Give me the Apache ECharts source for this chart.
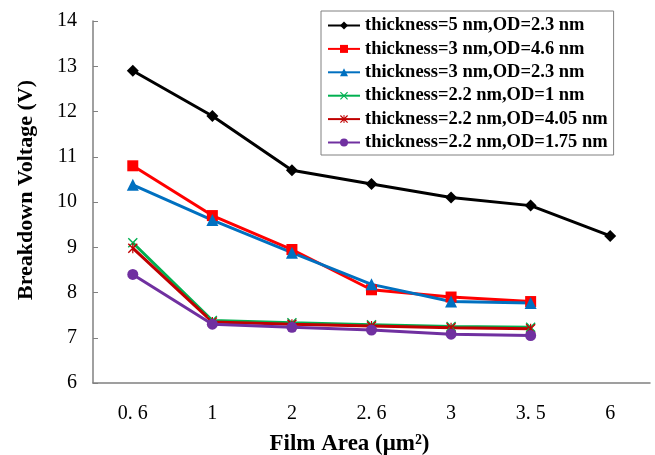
<!DOCTYPE html>
<html><head><meta charset="utf-8">
<script src="https://cdn.jsdelivr.net/npm/echarts@6/dist/echarts.min.js"></script>
<style>html,body{margin:0;padding:0;background:#fff}#c{width:655px;height:455px}</style>
</head><body><div id="c"></div>
<script>
const categories = ['0. 6', '1', '2', '2. 6', '3', '3. 5', '6'];
const names = [
  'thickness=5 nm,OD=2.3 nm',
  'thickness=3 nm,OD=4.6 nm',
  'thickness=3 nm,OD=2.3 nm',
  'thickness=2.2 nm,OD=1 nm',
  'thickness=2.2 nm,OD=4.05 nm',
  'thickness=2.2 nm,OD=1.75 nm'
];
const s5_23 = [12.9, 11.9, 10.7, 10.4, 10.1, 9.92, 9.25];
const s3_46 = [10.8, 9.7, 8.95, 8.06, 7.9, 7.8];
const s3_23 = [10.38, 9.6, 8.88, 8.18, 7.8, 7.77];
const s22_1 = [9.1, 7.38, 7.33, 7.29, 7.25, 7.23];
const s22_405 = [8.98, 7.35, 7.3, 7.26, 7.22, 7.2];
const s22_175 = [8.4, 7.3, 7.23, 7.17, 7.08, 7.05];

const X_PATH = 'path://M0,1L1,0L10,9L9,10Z M9,0L10,1L1,10L0,9Z';
const STAR_PATH = 'path://M0,1L1,0L10,9L9,10Z M9,0L10,1L1,10L0,9Z M4.4,0L5.6,0L5.6,10L4.4,10Z';

const styles = [
  {color:'#000000', symbol:'diamond', size:12},
  {color:'#ff0000', symbol:'rect', size:11},
  {color:'#0070c0', symbol:'triangle', size:12},
  {color:'#00b050', symbol:X_PATH, size:10},
  {color:'#c00000', symbol:STAR_PATH, size:10},
  {color:'#7030a0', symbol:'circle', size:11}
];
const data = [s5_23, s3_46, s3_23, s22_1, s22_405, s22_175];

const chart = echarts.init(document.getElementById('c'), null, {renderer:'canvas'});
chart.setOption({
  backgroundColor:'#fff',
  animation:false,
  grid:{left:93, right:5, top:21, bottom:72, containLabel:false, outerBoundsMode:'none'},
  legend:{
    orient:'vertical', left:321, top:11,
    padding:[5,6,3,6],
    backgroundColor:'#fff', borderColor:'#808080', borderWidth:1,
    itemWidth:32, itemHeight:10, itemGap:4.4,
    textStyle:{fontFamily:'Liberation Serif', fontWeight:'bold', fontSize:18.5, lineHeight:19, color:'#000'},
    data:names
  },
  xAxis:{
    type:'category', data:categories, boundaryGap:true,
    name:'Film Area (\u03bcm\u00b2)', nameLocation:'middle', nameGap:50,
    nameTextStyle:{fontFamily:'Liberation Serif', fontWeight:'bold', fontSize:23, color:'#000', padding:[0,44,0,0]},
    axisLine:{lineStyle:{color:'#808080', width:1.5}},
    axisTick:{alignWithLabel:true, inside:true, length:5, lineStyle:{color:'#808080'}},
    axisLabel:{fontFamily:'Liberation Serif', fontSize:20, color:'#000', margin:21}
  },
  yAxis:{
    type:'value', min:6, max:14, interval:1,
    name:'Breakdown Voltage (V)', nameLocation:'middle', nameGap:56,
    nameTextStyle:{fontFamily:'Liberation Serif', fontWeight:'bold', fontSize:22, color:'#000', padding:[0,0,0,24]},
    axisLine:{show:true, lineStyle:{color:'#808080', width:1.5}},
    axisTick:{show:true, inside:true, length:5, lineStyle:{color:'#808080'}},
    splitLine:{show:false},
    axisLabel:{fontFamily:'Liberation Serif', fontSize:20, color:'#000', margin:16}
  },
  series:data.map((d,i)=>({
    name:names[i], type:'line', data:d,
    symbol:styles[i].symbol, symbolSize:styles[i].size, showAllSymbol:true,
    lineStyle:{color:styles[i].color, width:3},
    itemStyle:{color:styles[i].color, borderWidth:0},
    color:styles[i].color
  }))
});
</script></body></html>
